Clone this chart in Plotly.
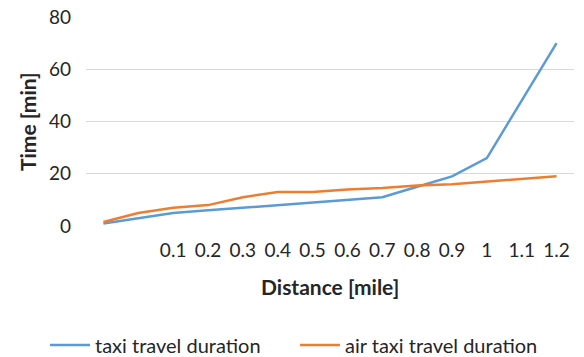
import plotly.graph_objects as go

# Category slots along the distance axis (first two slots carry no label)
distance_labels = ["", "", "0.1", "0.2", "0.3", "0.4", "0.5", "0.6",
                   "0.7", "0.8", "0.9", "1", "1.1", "1.2"]
taxi_minutes = [1, 3, 5, 6, 7, 8, 9, 10, 11, 15, 19, 26, 48, 70]
air_taxi_minutes = [1.5, 5, 7, 8, 11, 13, 13, 14, 14.5, 15.5, 16, 17, 18, 19]
y_ticks = [0, 20, 40, 60, 80]

slots = list(range(len(distance_labels)))
font_family = "Lato, 'Open Sans', sans-serif"
text_color = "#262626"
grid_color = "#D9D9D9"

W, H = 584, 357
ML, MR, MT, MB = 86, 10, 17, 131
plot_w = W - ML - MR
plot_h = H - MT - MB


def px_x(x):
    return (x - ML) / plot_w


def px_y(y):
    return (H - MB - y) / plot_h


fig = go.Figure()
fig.add_trace(go.Scatter(x=slots, y=taxi_minutes, mode="lines",
                         name="taxi travel duration", legend="legend",
                         line=dict(color="#5B9BD5", width=2.5)))
fig.add_trace(go.Scatter(x=slots, y=air_taxi_minutes, mode="lines",
                         name="air taxi travel duration", legend="legend2",
                         line=dict(color="#ED7D31", width=2.5)))

legend_common = dict(orientation="h", xanchor="left", xref="container",
                     y=1 - 345 / H, yanchor="middle", yref="container",
                     font=dict(size=20, color=text_color), itemwidth=40,
                     borderwidth=0)

fig.update_layout(
    width=W, height=H,
    margin=dict(l=ML, r=MR, t=MT, b=MB, autoexpand=False),
    paper_bgcolor="white", plot_bgcolor="white",
    font=dict(family=font_family, size=19, color=text_color),
    showlegend=True,
    legend=dict(x=45 / W, **legend_common),
    legend2=dict(x=295 / W, **legend_common),
    xaxis=dict(range=[-0.5, len(slots) - 0.5], tickmode="array",
               tickvals=slots, ticktext=distance_labels,
               showgrid=False, zeroline=False, showline=False,
               ticks="", ticklabelstandoff=11),
    yaxis=dict(range=[0, 80], tickmode="array", tickvals=y_ticks,
               showgrid=True, gridcolor=grid_color, gridwidth=1.3,
               zeroline=False, showline=False, ticks="",
               ticklabelstandoff=14),
    annotations=[
        dict(text="<b>Time [min]</b>", textangle=-90,
             x=px_x(27), y=px_y(122), xref="paper", yref="paper",
             xanchor="center", yanchor="middle", showarrow=False,
             font=dict(size=21, color=text_color)),
        dict(text="<b>Distance [mile]</b>",
             x=px_x(330), y=px_y(286), xref="paper", yref="paper",
             xanchor="center", yanchor="middle", showarrow=False,
             font=dict(size=21, color=text_color)),
    ],
)

fig.write_html("out.html")
